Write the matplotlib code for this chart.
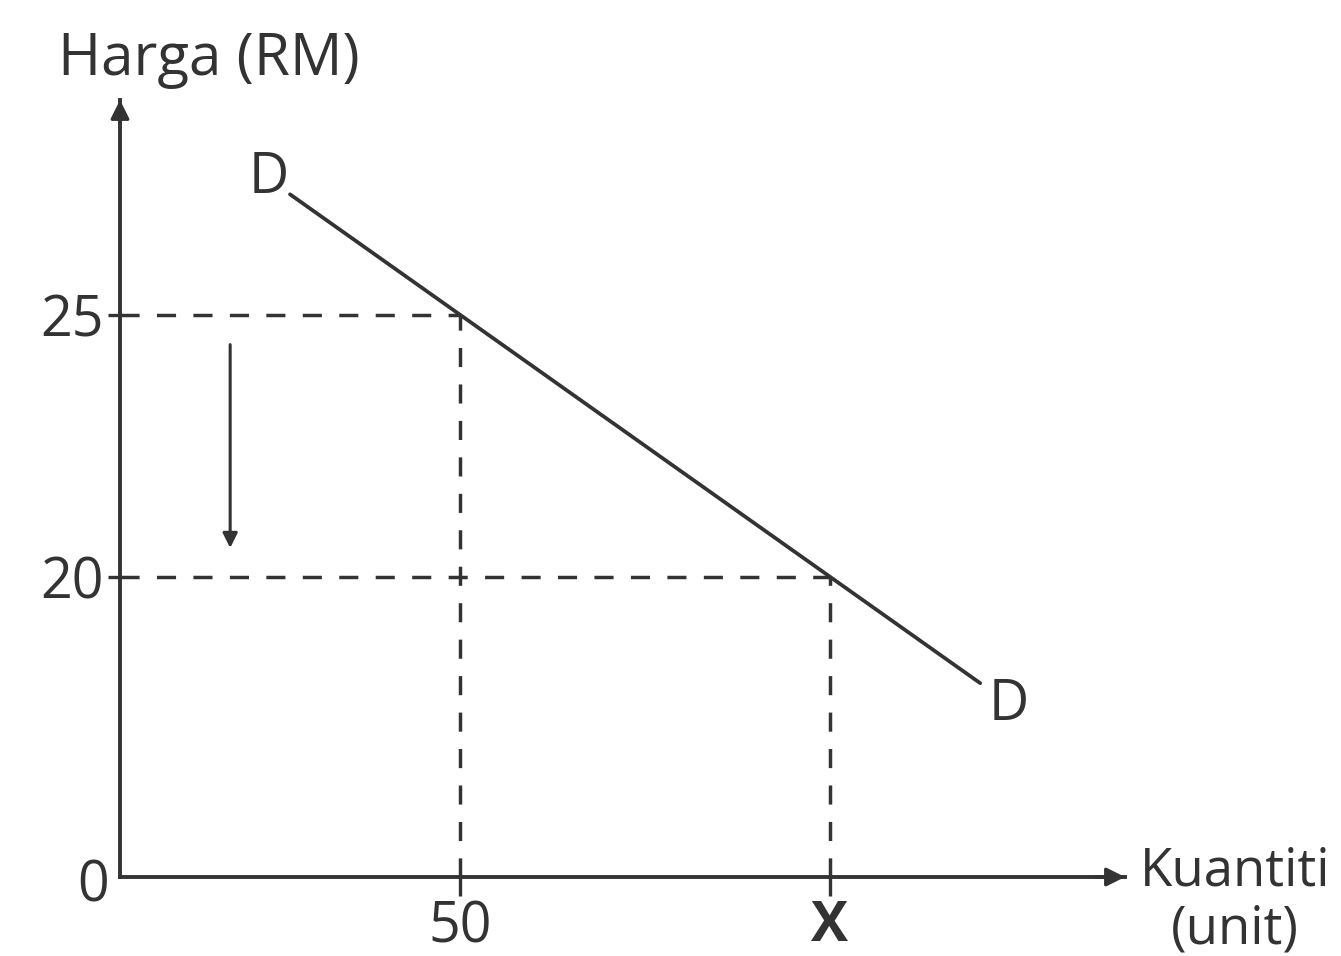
import matplotlib
matplotlib.use("Agg")
import matplotlib.pyplot as plt

plt.rcParams['font.family'] = ['Open Sans', 'DejaVu Sans']

# Data (schematic demand diagram)
prices = [25, 20]
price_labels = ["25", "20"]
quantities = [50, 104.4]
quantity_labels = ["50", "X"]
demand_q = [25, 126.5]
demand_p = [27.30, 17.97]
drop_arrow_q = 16.2
drop_arrow_p = [24.43, 20.55]

W, H = 1341, 956
fig = plt.figure(figsize=(W / 100, H / 100), dpi=100)
fig.patch.set_facecolor('white')

left_px, right_px, bottom_px, top_px = 120, 1125, 877, 100
ax = fig.add_axes([left_px / W, 1 - bottom_px / H,
                   (right_px - left_px) / W, (bottom_px - top_px) / H])
ax.set_facecolor('none')
col = '#333333'
ax.set_xlim(0, 147.8)
ax.set_ylim(14.27, 29.10)

for s in ['top', 'right']:
    ax.spines[s].set_visible(False)
for s in ['left', 'bottom']:
    ax.spines[s].set_color(col)
    ax.spines[s].set_linewidth(2.8)

# axis arrowheads
ax.annotate('', xy=(0, 1.0), xytext=(0, 0.97), xycoords='axes fraction',
            arrowprops=dict(arrowstyle='-|>', color=col, lw=2.4, mutation_scale=28,
                            shrinkA=0, shrinkB=0), annotation_clip=False)
ax.annotate('', xy=(1.0, 0), xytext=(0.97, 0), xycoords='axes fraction',
            arrowprops=dict(arrowstyle='-|>', color=col, lw=2.4, mutation_scale=28,
                            shrinkA=0, shrinkB=0), annotation_clip=False)

fs = 40
# ticks
ax.set_yticks(prices)
ax.set_yticklabels(price_labels)
ax.set_xticks(quantities)
ax.set_xticklabels(quantity_labels)
ax.tick_params(axis='y', direction='out', length=9, width=2.4, color=col,
               labelsize=fs, labelcolor=col, pad=3)
ax.tick_params(axis='x', direction='out', length=14, width=2.4, color=col,
               labelsize=fs, labelcolor=col, pad=2)
ax.get_xticklabels()[1].set_fontweight('bold')

# dashed guide lines
dash = (0, (5.5, 5))
for q, p in zip(quantities, prices):
    ax.plot([0, q], [p, p], color=col, lw=2.5, linestyle=dash)
    ax.plot([q, q], [ax.get_ylim()[0], p], color=col, lw=2.5, linestyle=dash)

# demand curve
ax.plot(demand_q, demand_p, color=col, lw=2.7, solid_capstyle='round')
ax.text(demand_q[0] - 0.2, demand_p[0] - 0.25, 'D', fontsize=fs, color=col,
        ha='right', va='bottom')
ax.text(demand_q[1] + 1.2, demand_p[1] + 0.12, 'D', fontsize=fs, color=col,
        ha='left', va='top')

# price drop arrow
ax.annotate('', xy=(drop_arrow_q, drop_arrow_p[1]), xytext=(drop_arrow_q, drop_arrow_p[0]),
            arrowprops=dict(arrowstyle='-|>', color=col, lw=2.2, mutation_scale=22,
                            shrinkA=0, shrinkB=0))

# labels
fig.text(58 / W, 1 - 60 / H, 'Harga (RM)', fontsize=42, color=col, ha='left', va='center')
fig.text(93 / W, 1 - 887 / H, '0', fontsize=fs, color=col, ha='center', va='center')
fig.text(1140 / W, 1 - 872 / H, 'Kuantiti', fontsize=38, color=col, ha='left', va='center')
fig.text(1235 / W, 1 - 930 / H, '(unit)', fontsize=38, color=col, ha='center', va='center')

fig.savefig('out.png', dpi=100, facecolor='white')
